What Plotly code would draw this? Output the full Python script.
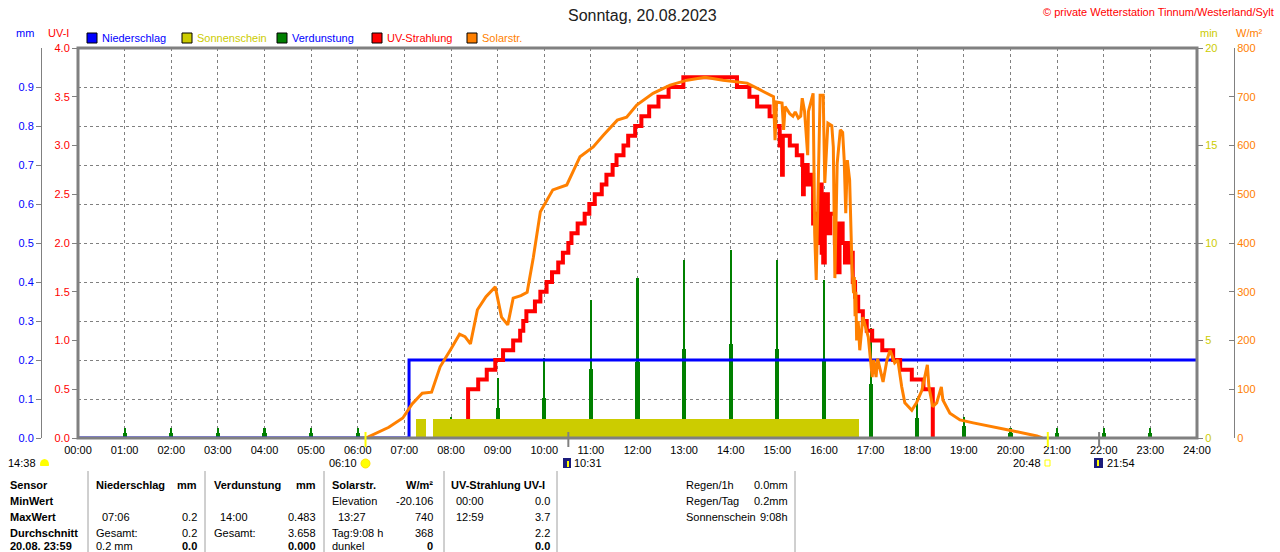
import plotly.graph_objects as go

FONT = "Liberation Sans, Arial, sans-serif"
W, H = 1280, 552
TOP, BOTTOM = 48, 438          # plot box top / bottom in px


def hm(s):
    h, m = s.split(":")
    return int(h) + int(m) / 60.0


def px(x):
    return x / W


def py(y):
    return (BOTTOM - y) / (BOTTOM - TOP)


# ---- data ----
hours = list(range(25))
hour_labels = ["%02d:00" % h for h in hours]

rain_times = ["00:00", "07:06", "24:00"]
rain_mm = [0.0, 0.2, 0.2]

sun_start = ["07:15", "07:37"]
sun_end = ["07:28", "16:45"]
sun_min = [1, 1]

evap_hours = [1, 2, 3, 4, 5, 6, 8, 9, 10, 11, 12, 13, 14, 15, 16, 17, 18, 19, 20, 21, 22, 23]
evap_peak = [0.025, 0.025, 0.025, 0.025, 0.025, 0.025, 0.055, 0.153, 0.204, 0.354, 0.410,
             0.456, 0.483, 0.456, 0.405, 0.281, 0.102, 0.053, 0.026, 0.026, 0.025, 0.025]
evap_base = [0.012, 0.012, 0.012, 0.012, 0.012, 0.012, 0.030, 0.076, 0.102, 0.176, 0.196,
             0.227, 0.241, 0.228, 0.200, 0.138, 0.051, 0.030, 0.012, 0.012, 0.012, 0.012]

uv_times = ["08:22", "08:22", "08:35", "08:46", "08:57", "09:07", "09:20", "09:29", "09:33",
            "09:37", "09:48", "09:55", "10:03", "10:10", "10:18", "10:24", "10:31", "10:35",
            "10:43", "10:52", "10:58", "11:05", "11:14", "11:20", "11:28", "11:33", "11:42",
            "11:48", "11:57", "12:05", "12:15", "12:27", "12:40", "12:59", "14:08", "14:24",
            "14:34", "14:50", "14:57", "15:03", "15:06", "15:07", "15:16", "15:25", "15:32",
            "15:33", "15:34", "15:39", "15:43", "15:46", "15:49", "15:52", "15:55", "15:57",
            "15:59", "16:01", "16:05", "16:08", "16:14", "16:16", "16:18", "16:20", "16:24",
            "16:27", "16:30", "16:32", "16:35", "16:37", "16:40", "16:44", "16:50", "16:55",
            "17:02", "17:15", "17:29", "17:38", "17:53", "18:08", "18:20"]
uv_vals = [0.0, 0.5, 0.6, 0.7, 0.8, 0.9, 1.0, 1.1, 1.2,
           1.3, 1.4, 1.5, 1.6, 1.7, 1.8, 1.9, 2.0, 2.1,
           2.2, 2.3, 2.4, 2.5, 2.6, 2.7, 2.8, 2.9, 3.0,
           3.1, 3.2, 3.3, 3.4, 3.5, 3.6, 3.7, 3.6, 3.5,
           3.4, 3.3, 3.2, 3.0, 2.7, 3.1, 3.0, 2.9, 2.8,
           2.5, 2.8, 2.6, 2.7, 2.2, 2.3, 2.0, 2.6, 1.9,
           1.8, 2.5, 2.1, 2.3, 2.0, 2.2, 1.7, 2.2, 2.0,
           1.8, 2.0, 1.8, 1.9, 1.6, 1.45, 1.3, 1.2, 1.1,
           1.0, 0.9, 0.8, 0.7, 0.6, 0.5, 0.0]

solar_times = ["06:10", "06:13", "06:40", "06:58", "07:10", "07:23", "07:35", "07:46", "07:59",
               "08:11", "08:18", "08:25", "08:34", "08:45", "08:57", "09:05", "09:13", "09:20",
               "09:30", "09:38", "09:46", "09:55", "10:11", "10:29", "10:46", "11:03", "11:16",
               "11:34", "11:46", "11:59", "12:20", "12:42", "13:04", "13:27", "13:50", "14:08",
               "14:21", "14:38", "14:51", "14:55", "14:57", "14:59", "15:06", "15:08", "15:10",
               "15:16", "15:20", "15:23", "15:27", "15:30", "15:32", "15:35", "15:39", "15:40",
               "15:46", "15:48", "15:50", "15:52", "15:55", "15:59", "16:01", "16:05", "16:10",
               "16:12", "16:14", "16:17", "16:21", "16:24", "16:26", "16:28", "16:30", "16:33",
               "16:35", "16:36", "16:38", "16:39", "16:40", "16:41", "16:42", "16:44", "16:46",
               "16:50", "16:57", "17:02", "17:04", "17:07", "17:09", "17:16", "17:21", "17:25",
               "17:31", "17:35", "17:40", "17:44", "17:53", "17:59", "18:06", "18:13", "18:15",
               "18:20", "18:25", "18:31", "18:33", "18:42", "18:55", "19:12", "19:59", "20:34",
               "20:41"]
solar_vals = [0, 2, 22, 41, 70, 92, 94, 146, 180,
              213, 208, 193, 263, 290, 310, 248, 232, 287,
              292, 299, 371, 464, 509, 519, 577, 597, 621,
              652, 658, 683, 707, 724, 734, 740, 734, 730,
              728, 714, 703, 700, 611, 689, 687, 632, 680,
              665, 660, 669, 656, 660, 697, 670, 580, 670,
              707, 420, 324, 474, 703, 703, 523, 646, 641,
              597, 328, 564, 632, 627, 570, 461, 570, 529,
              392, 351, 297, 330, 250, 300, 200, 240, 180,
              248, 207, 125, 160, 125, 163, 115, 160, 180,
              154, 160, 105, 72, 57, 72, 98, 150, 105,
              64, 72, 105, 78, 51, 37, 31, 16, 4,
              0]

mm_ticks = [0.0, 0.1, 0.2, 0.3, 0.4, 0.5, 0.6, 0.7, 0.8, 0.9]
uv_ticks = [0.0, 0.5, 1.0, 1.5, 2.0, 2.5, 3.0, 3.5, 4.0]
min_ticks = [0, 5, 10, 15, 20]
wm2_ticks = [0, 100, 200, 300, 400, 500, 600, 700, 800]

legend_names = ["Niederschlag", "Sonnenschein", "Verdunstung", "UV-Strahlung", "Solarstr."]
legend_fill = ["#0000FF", "#CCCC00", "#008000", "#FF0000", "#FF8000"]
legend_text = ["#0000FF", "#CCCC00", "#0000FF", "#FF0000", "#FF8000"]

sun_marks = ["06:10", "20:48"]
moon_marks = ["10:31", "21:54"]

row_labels = ["Sensor", "MinWert", "MaxWert", "Durchschnitt", "20.08. 23:59"]
rain_left = ["<b>Niederschlag</b>", "", "07:06", "Gesamt:", "0.2 mm"]
rain_right = ["<b>mm</b>", "", "0.2", "0.2", "<b>0.0</b>"]
evap_left = ["<b>Verdunstung</b>", "", "14:00", "Gesamt:", ""]
evap_right = ["<b>mm</b>", "", "0.483", "3.658", "<b>0.000</b>"]
solar_left = ["<b>Solarstr.</b>", "Elevation", "13:27", "Tag:9:08 h", "dunkel"]
solar_right = ["<b>W/m²</b>", "-20.106", "740", "368", "<b>0</b>"]
uv_left = ["<b>UV-Strahlung UV-I</b>", "00:00", "12:59", "", ""]
uv_right = ["", "0.0", "3.7", "2.2", "<b>0.0</b>"]
info_left = ["Regen/1h", "Regen/Tag", "Sonnenschein"]
info_right = ["0.0mm", "0.2mm", "9:08h"]

# ---- figure ----
fig = go.Figure()

s0 = [hm(t) for t in sun_start]
s1 = [hm(t) for t in sun_end]
fig.add_trace(go.Bar(x=[(a + b) / 2 for a, b in zip(s0, s1)], y=sun_min,
                     width=[b - a for a, b in zip(s0, s1)], yaxis="y3",
                     marker=dict(color="#CCCC00", line_width=0), showlegend=False))

fig.add_trace(go.Scatter(x=[hm(t) for t in rain_times], y=rain_mm, mode="lines",
                         line=dict(color="#0000FF", width=3, shape="hv"), showlegend=False))

fig.add_trace(go.Bar(x=evap_hours, y=evap_base, width=0.09, yaxis="y",
                     marker=dict(color="#008000", line_width=0), showlegend=False))
fig.add_trace(go.Bar(x=evap_hours, y=evap_peak, width=0.045, yaxis="y",
                     marker=dict(color="#008000", line_width=0), showlegend=False))

fig.add_trace(go.Scatter(x=[hm(t) for t in solar_times], y=solar_vals, mode="lines",
                         yaxis="y4", line=dict(color="#FF8000", width=3), showlegend=False))

fig.add_trace(go.Scatter(x=[hm(t) for t in uv_times], y=uv_vals, mode="lines",
                         yaxis="y2", line=dict(color="#FF0000", width=4, shape="hv"),
                         showlegend=False))

tickfont = dict(family=FONT, size=11)
fig.update_layout(
    width=W, height=H,
    margin=dict(l=0, r=0, t=TOP, b=H - BOTTOM, autoexpand=False),
    paper_bgcolor="white", plot_bgcolor="white",
    barmode="overlay", bargap=0,
    font=dict(family=FONT, size=11, color="black"),
    xaxis=dict(domain=[px(78), px(1197)], range=[0, 24], tickvals=hours, ticktext=hour_labels,
               showgrid=True, gridcolor="#808080", griddash="3px,3px", gridwidth=1,
               zeroline=False, ticks="outside", ticklen=2, tickcolor="rgba(0,0,0,0)",
               tickfont=dict(tickfont, color="black"), automargin=False, fixedrange=True),
    yaxis=dict(range=[0, 1], anchor="free", position=px(41), side="left",
               tickvals=mm_ticks, ticktext=["%.1f" % v for v in mm_ticks],
               tickfont=dict(tickfont, color="#0000FF"),
               showgrid=True, gridcolor="#808080", griddash="3px,3px", gridwidth=1,
               zeroline=False, showline=True, linecolor="#808080", linewidth=1,
               ticks="outside", ticklen=5, tickcolor="#808080", automargin=False),
    yaxis2=dict(range=[0, 4], overlaying="y", anchor="x", side="left",
                tickvals=uv_ticks, ticktext=["%.1f" % v for v in uv_ticks],
                tickfont=dict(tickfont, color="#FF0000"), showgrid=False, zeroline=False,
                ticks="outside", ticklen=5, tickcolor="#808080", automargin=False),
    yaxis3=dict(range=[0, 20], overlaying="y", anchor="x", side="right",
                tickvals=min_ticks, tickfont=dict(tickfont, color="#CCCC00"),
                showgrid=False, zeroline=False, ticks="outside", ticklen=5,
                tickcolor="#808080", automargin=False),
    yaxis4=dict(range=[0, 800], overlaying="y", anchor="free", position=px(1234),
                side="right", tickvals=wm2_ticks, tickfont=dict(tickfont, color="#FF8000"),
                showgrid=False, zeroline=False, showline=True, linecolor="#808080",
                linewidth=1, ticks="inside", ticklen=5, tickcolor="#808080",
                automargin=False),
)

shapes = []
ann = []


def label(x, y, text, anchor="left", size=11, color="black"):
    ann.append(dict(xref="paper", yref="paper", x=px(x), y=py(y), text=text,
                    showarrow=False, xanchor=anchor, yanchor="middle",
                    font=dict(family=FONT, size=size, color=color)))


def pshape(kind, x0, x1, y0, y1, **kw):
    shapes.append(dict(type=kind, xref="paper", yref="paper", x0=px(x0), x1=px(x1),
                       y0=py(y0), y1=py(y1), **kw))


# plot frame
shapes.append(dict(type="rect", xref="x domain", yref="y domain", x0=0, x1=1, y0=0, y1=1,
                   line=dict(color="#808080", width=3), layer="above"))

# title, copyright, axis units
label(642, 15, "Sonntag, 20.08.2023", "center", 16, "#202020")
label(1276, 12, "© private Wetterstation Tinnum/Westerland/Sylt", "right", 11, "#FF0000")
for x, txt, col in [(14, "mm", "#0000FF"), (46, "UV-I", "#FF0000"),
                    (1198, "min", "#CCCC00"), (1234, "W/m²", "#FF8000")]:
    label(x, 33, txt, "left", 11, col)

# legend row
for i, (name, fill, tcol) in enumerate(zip(legend_names, legend_fill, legend_text)):
    x0 = 87 + 95 * i
    pshape("rect", x0, x0 + 10, 43, 33, fillcolor=fill, line=dict(color="black", width=1))
    label(x0 + 13, 38, name, "left", 11, tcol)

# sunrise / sunset and moon marks on the time axis
for t in sun_marks:
    shapes.append(dict(type="line", xref="x", yref="paper", x0=hm(t), x1=hm(t),
                       y0=py(432), y1=py(447), line=dict(color="#FFFF00", width=2)))
for t in moon_marks:
    shapes.append(dict(type="line", xref="x", yref="paper", x0=hm(t), x1=hm(t),
                       y0=py(432), y1=py(447), line=dict(color="#808080", width=2)))

# moon at 14:38 (half disc)
pshape("circle", 40, 49, 470, 459, fillcolor="#FFFF00", line=dict(width=0))
pshape("rect", 39, 50, 470, 466, fillcolor="white", line=dict(width=0))
label(38, 463, "14:38", "right")
# sun 06:10
pshape("circle", 361, 370, 468, 459, fillcolor="#FFFF00", line=dict(color="#FFE000", width=1))
label(359, 463, "06:10", "right")
# 10:31
pshape("rect", 563, 571, 468, 458, fillcolor="#1C1C7C", line=dict(width=0))
pshape("line", 568, 568, 467, 461, line=dict(color="#FFFF00", width=2))
label(572, 463, "10:31")
# 20:48
pshape("rect", 1045, 1050, 466, 460, line=dict(color="#FFFF00", width=1))
label(1043, 463, "20:48", "right")
# 21:54
pshape("rect", 1094, 1103, 468, 458, fillcolor="#1C1C7C", line=dict(width=0))
pshape("line", 1098, 1098, 466, 460, line=dict(color="#FFFF00", width=2))
label(1105, 463, "21:54")

# table
for x in [88, 205, 324, 444, 557, 795]:
    pshape("line", x, x, 471, 560, line=dict(color="#A0A0A0", width=1))

row_y = [485, 501, 517, 533, 546]


def cells(texts, x, anchor, indent=None):
    for i, txt in enumerate(texts):
        if txt:
            label(x + (indent[i] if indent else 0), row_y[i], txt, anchor)


cells(["<b>%s</b>" % t for t in row_labels], 8, "left")
cells(rain_left, 94, "left", [0, 0, 6, 0, 0])
cells(rain_right, 199, "right")
cells(evap_left, 212, "left", [0, 0, 6, 0, 0])
cells(evap_right, 318, "right")
cells(solar_left, 330, "left", [0, 0, 6, 0, 0])
cells(solar_right, 435, "right")
cells(uv_left, 449, "left", [0, 5, 5, 0, 0])
cells(uv_right, 552, "right")
cells(info_left, 684, "left")
cells(info_right, 790, "right")

fig.update_layout(shapes=shapes, annotations=ann)
fig.write_html("out.html", config={"displayModeBar": False},
               post_script="document.body.style.margin='0';"
                           "document.body.style.overflow='hidden';")
